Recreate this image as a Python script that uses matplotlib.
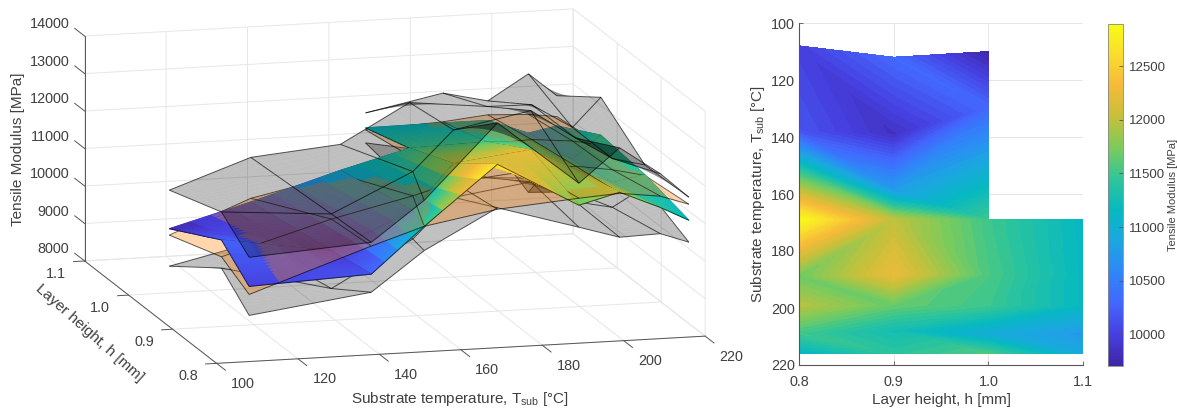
import numpy as np
import matplotlib
matplotlib.use("Agg")
import matplotlib.pyplot as plt
import matplotlib.tri as mtri
from matplotlib.cm import ScalarMappable
from matplotlib.colors import LinearSegmentedColormap, Normalize
from mpl_toolkits.mplot3d import proj3d
from mpl_toolkits.mplot3d.art3d import Poly3DCollection

plt.rcParams["font.family"] = ["Liberation Sans", "DejaVu Sans"]
plt.rcParams["mathtext.default"] = "regular"
TEXT = "#404040"
AXIS = "#555555"

layer_heights = [0.8, 0.9, 1.0, 1.1]

# measured substrate temperature, one column per layer height
temp_08 = [108, 138, 151, 169, 189, 199, 209, 216]
temp_09 = [112, 139, 159, 169, 188, 199, 208, 216]
temp_10 = [110, 130, 152, 169, 188, 199, 209, 216]
temp_11 = [110, 130, 152, 169, 188, 199, 209, 216]

# mean modulus
mean_08 = [10005, 10150, 11347, 12893, 11680, 11965, 11500, 11117]
mean_09 = [10310, 9850, 10800, 12000, 12250, 11650, 11250, 11420]
mean_10 = [9710, 10300, 11013, 11500, 11550, 11500, 10950, 11563]
mean_11 = [np.nan, np.nan, np.nan, 11133, 11150, 11150, 10750, 10900]

# mean + std
upper_08 = [10780, 11000, 12040, 14000, 12267, 13150, 12400, 11731]
upper_09 = [11056, 10840, 11850, 12900, 13300, 12500, 11900, 11680]
upper_10 = [10740, 11493, 11707, 12720, 12500, 12480, 11813, 12576]
upper_11 = [np.nan, np.nan, np.nan, 11533, 11947, 11672, 12333, 11707]

# mean - std
lower_08 = [9230, 9667, 10700, 11733, 11093, 10765, 10800, 10531]
lower_09 = [9560, 8850, 10050, 11100, 11400, 10800, 10600, 11100]
lower_10 = [8710, 9200, 10320, 10500, 10600, 10520, 10090, 10560]
lower_11 = [np.nan, np.nan, np.nan, 10733, 10350, 10630, 9170, 10100]

# fitted surface
fit_08 = [9790, 10900, 11347, 11693, 11867, 11938, 11800, 11544]
fit_09 = [9860, 10700, 11200, 11500, 11700, 11750, 11600, 11400]
fit_10 = [9540, 10400, 10900, 11300, 11500, 11550, 11450, 11300]
fit_11 = [np.nan, np.nan, np.nan, 11080, 11180, 11300, 11250, 11150]

x_ticks = [100, 120, 140, 160, 180, 200, 220]
y_ticks = [0.8, 0.9, 1.0, 1.1]
z_ticks = [8000, 9000, 10000, 11000, 12000, 13000, 14000]
cbar_ticks = [10000, 10500, 11000, 11500, 12000, 12500]

parula_colors = ["#3e26a8", "#4740e0", "#4367fd", "#2e87f7", "#1ca6e1", "#06b9c1",
                 "#2fc59a", "#7bcb5c", "#c5c03a", "#f5b93a", "#fadb2f", "#f9fb15"]
parula = LinearSegmentedColormap.from_list("parula", parula_colors)

temps = np.array([temp_08, temp_09, temp_10, temp_11], dtype=float).T
hs = np.tile(layer_heights, (temps.shape[0], 1))
mean = np.array([mean_08, mean_09, mean_10, mean_11]).T
upper = np.array([upper_08, upper_09, upper_10, upper_11]).T
lower = np.array([lower_08, lower_09, lower_10, lower_11]).T
fit = np.array([fit_08, fit_09, fit_10, fit_11]).T
norm = Normalize(np.nanmin(mean), np.nanmax(mean))


def add_surface(polys, faces, edges, Z, color):
    # cells are cut into small patches only so the depth sort and the colour
    # gradient work, the values stay the ones in the lists above
    nt, nh = 4, 14
    for i in range(Z.shape[0] - 1):
        for j in range(Z.shape[1] - 1):
            if np.isnan(Z[i:i + 2, j:j + 2]).any():
                continue
            for a in range(nt):
                for b in range(nh):
                    corners = []
                    values = []
                    for u, v in [(a, b), (a + 1, b), (a + 1, b + 1), (a, b + 1)]:
                        s, r = u / nt, v / nh
                        w = np.array([[(1 - s) * (1 - r), (1 - s) * r], [s * (1 - r), s * r]])
                        val = (w * Z[i:i + 2, j:j + 2]).sum()
                        corners.append(((w * temps[i:i + 2, j:j + 2]).sum(),
                                        (w * hs[i:i + 2, j:j + 2]).sum(), val))
                        values.append(val)
                    polys.append(corners)
                    if color is None:
                        c = parula(norm(np.mean(values)))
                        faces.append(c)
                        edges.append(c)
                    else:
                        faces.append(color)
                        edges.append((0, 0, 0, 0))
    # mesh lines
    for i in range(Z.shape[0]):
        for j in range(Z.shape[1]):
            for di, dj, n in [(1, 0, nt), (0, 1, nh)]:
                i2, j2 = i + di, j + dj
                if i2 >= Z.shape[0] or j2 >= Z.shape[1]:
                    continue
                if np.isnan(Z[i, j]) or np.isnan(Z[i2, j2]):
                    continue
                p0 = np.array([temps[i, j], hs[i, j], Z[i, j]])
                p1 = np.array([temps[i2, j2], hs[i2, j2], Z[i2, j2]])
                for k in range(n):
                    polys.append([p0 + (p1 - p0) * k / n, p0 + (p1 - p0) * (k + 1) / n])
                    faces.append((0, 0, 0, 0))
                    edges.append((0, 0, 0, 0.65))


def mean_triangles():
    # split each cell along the diagonal whose two ends have the closest values
    nrow, ncol = mean.shape
    tris = []
    for i in range(nrow - 1):
        for j in range(ncol - 1):
            if np.isnan(mean[i:i + 2, j:j + 2]).any():
                continue
            a, b = i * ncol + j, i * ncol + j + 1
            c, d = (i + 1) * ncol + j, (i + 1) * ncol + j + 1
            if abs(mean[i, j] - mean[i + 1, j + 1]) < abs(mean[i, j + 1] - mean[i + 1, j]):
                tris += [[a, b, d], [a, d, c]]
            else:
                tris += [[a, b, c], [b, d, c]]
    return tris


fig = plt.figure(figsize=(11.77, 4.12), dpi=100)

# left: 3D surfaces
ax = fig.add_axes([19 / 1177, -150 / 412, 732 / 1177, 732 / 412], projection="3d", proj_type="ortho")
ax.patch.set_alpha(0)
ax.set_box_aspect((506, 510, 230))
ax.view_init(elev=12, azim=-105)
ax.set_xlim(100, 220)
ax.set_ylim(0.8, 1.1)
ax.set_zlim(8000, 14000)
ax.set_xticks(x_ticks)
ax.set_yticks(y_ticks)
ax.set_zticks(z_ticks)
ax.set_xticklabels([])
ax.set_yticklabels([])
ax.set_zticklabels([])
for axis in [ax.xaxis, ax.yaxis, ax.zaxis]:
    axis.set_pane_color((1, 1, 1, 0))
    axis.pane.set_edgecolor((0.9, 0.9, 0.9, 1))
    axis.line.set_color(AXIS)
    axis.line.set_linewidth(0.7)
    axis._axinfo["grid"].update(color=(0.9, 0.9, 0.9, 1), linewidth=0.7)
    axis._axinfo["tick"].update(inward_factor=0, outward_factor=0)

polys, faces, edges = [], [], []
add_surface(polys, faces, edges, lower, (0, 0, 0, 0.25))
add_surface(polys, faces, edges, fit, (1, 0.5, 0, 0.33))
add_surface(polys, faces, edges, mean, None)
add_surface(polys, faces, edges, upper, (0, 0, 0, 0.25))
ax.add_collection3d(Poly3DCollection(polys, facecolors=faces, edgecolors=edges, linewidths=0.7))

# tick marks and labels of the 3D box
proj = ax.get_proj()


def label3d(x, y, z, s, ha):
    px, py, _ = proj3d.proj_transform(x, y, z, proj)
    ax.text2D(px, py, s, transform=ax.transData, ha=ha, va="center", fontsize=10.4, color=TEXT)


def tick3d(p0, p1):
    ax.plot([p0[0], p1[0]], [p0[1], p1[1]], [p0[2], p1[2]], color=AXIS, linewidth=0.7, zorder=0)


for t in x_ticks:
    tick3d((t, 0.8, 8000), (t, 0.78, 8000))
    label3d(t, 0.74, 8000, str(t), "center")
for h in y_ticks:
    tick3d((100, h, 8000), (97.3, h, 8000))
    label3d(93, h, 7700, f"{h:.1f}", "center")
for z in z_ticks:
    tick3d((100, 1.1, z), (100, 1.1225, z))
    label3d(100, 1.135, z, str(z), "right")

fig.text(460 / 1177, 1 - 399 / 412, "Substrate temperature, T$_{sub}$ [°C]", ha="center", va="center",
         fontsize=11, color=TEXT)
fig.text(90 / 1177, 1 - 333 / 412, "Layer height, h [mm]", ha="center", va="center", rotation=-41.7,
         fontsize=11, color=TEXT)
fig.text(18 / 1177, 1 - 149 / 412, "Tensile Modulus [MPa]", ha="center", va="center", rotation=90,
         fontsize=11, color=TEXT)

# right: contour map
ax2 = fig.add_axes([799 / 1177, 1 - 365 / 412, 284 / 1177, 342 / 412])
tri = mtri.Triangulation(hs.ravel(), temps.ravel(), mean_triangles())
ax2.tricontourf(tri, np.nan_to_num(mean.ravel(), nan=norm.vmin), levels=np.linspace(norm.vmin, norm.vmax, 60),
                cmap=parula, norm=norm)
ax2.set_xlim(0.8, 1.1)
ax2.set_ylim(220, 100)
ax2.set_xticks(y_ticks)
ax2.set_xticklabels([f"{h:.1f}" for h in y_ticks])
ax2.set_yticks([100, 120, 140, 160, 180, 200, 220])
ax2.grid(True, color="#e6e6e6", linewidth=0.7)
ax2.set_axisbelow(True)
ax2.tick_params(direction="in", length=3, width=0.6, color=AXIS, labelcolor=TEXT, labelsize=10.4, pad=3)
ax2.tick_params(axis="x", pad=7)
ax2.spines["top"].set_visible(False)
ax2.spines["right"].set_visible(False)
ax2.spines["left"].set_color(AXIS)
ax2.spines["bottom"].set_color(AXIS)
ax2.set_xlabel("Layer height, h [mm]", fontsize=11, color=TEXT, labelpad=3)
ax2.set_ylabel("Substrate temperature, T$_{sub}$ [°C]", fontsize=11, color=TEXT, labelpad=3)

cax = fig.add_axes([1108 / 1177, 1 - 365.5 / 412, 15 / 1177, 341.5 / 412])
cbar = fig.colorbar(ScalarMappable(norm=norm, cmap=parula), cax=cax)
cbar.set_ticks(cbar_ticks)
cbar.ax.tick_params(direction="in", length=3, width=0.6, color=AXIS, labelcolor=TEXT, labelsize=9.5, pad=4)
cbar.outline.set_edgecolor("#888888")
cbar.outline.set_linewidth(0.6)
cbar.set_label("Tensile Modulus [MPa]", fontsize=8, color=TEXT, labelpad=2)

fig.savefig("out.png", dpi=100)
